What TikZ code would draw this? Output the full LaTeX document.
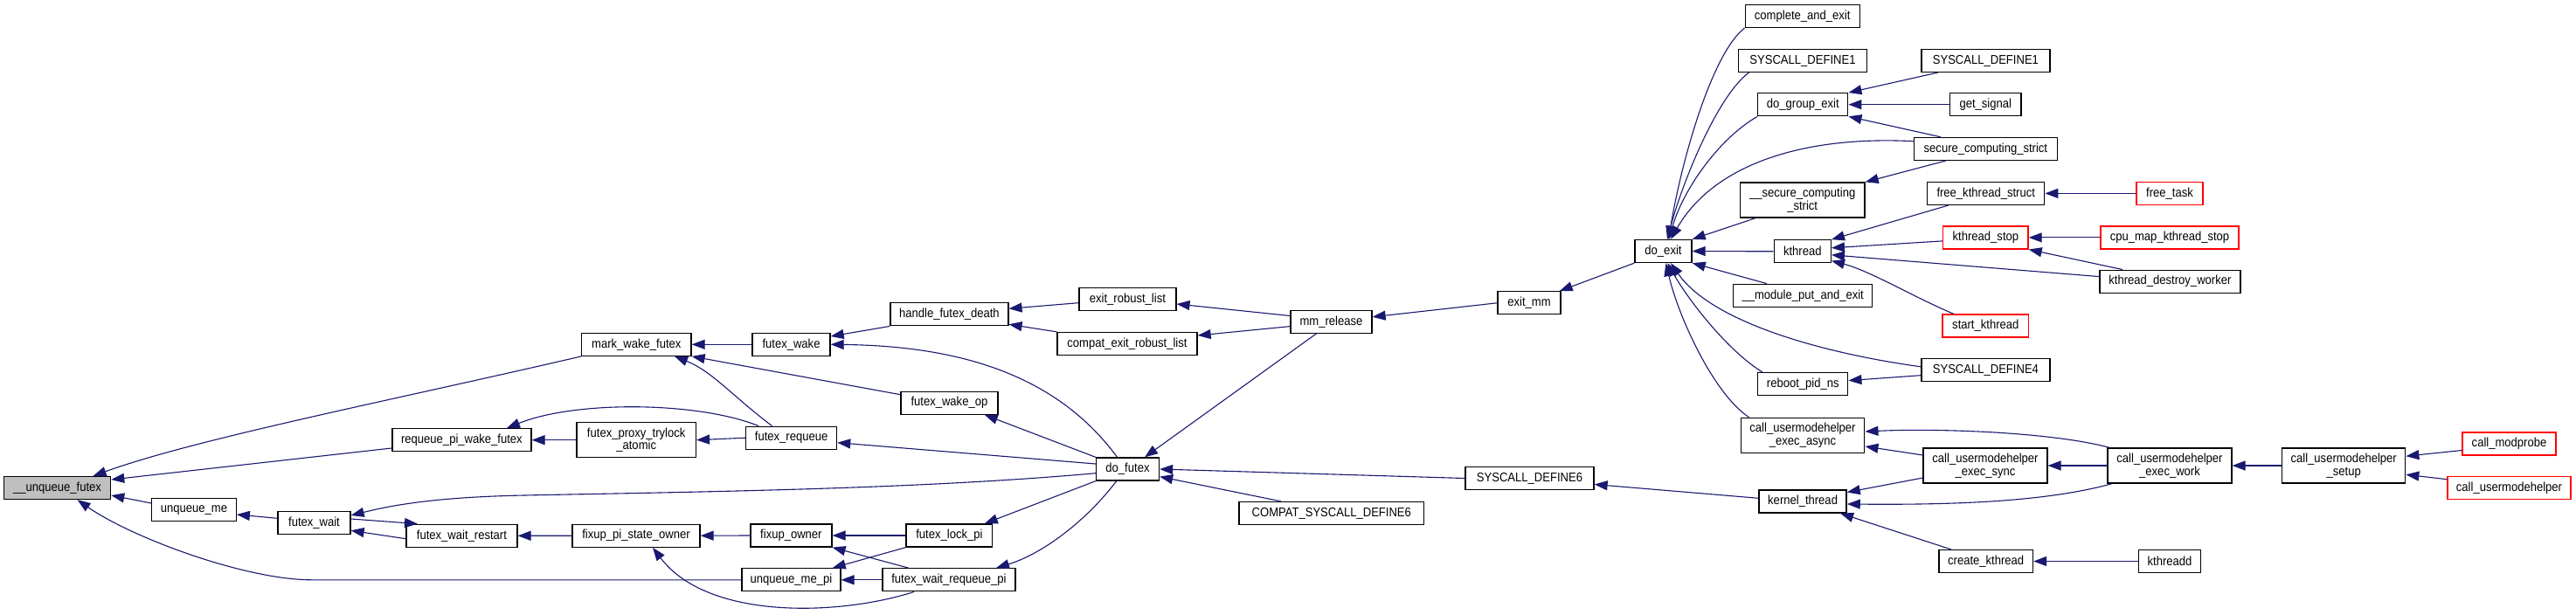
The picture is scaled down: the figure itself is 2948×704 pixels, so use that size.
\documentclass[tikz,border=0pt]{standalone}
\usepackage{fontspec}
\setmainfont{Liberation Sans}[FakeStretch=0.9]
\usetikzlibrary{arrows.meta}
\definecolor{edgec}{HTML}{191970}
\definecolor{rootfill}{HTML}{BFBFBF}
\begin{document}
\begin{tikzpicture}[x=1pt,y=-1pt,
 box/.style={draw=black,line width=1.3pt,inner sep=0pt,minimum height=26pt,align=center,font=\fontsize{14.5}{14.7}\selectfont},
 redbox/.style={box,draw=red},
 two/.style={minimum height=40pt},
 edg/.style={draw=edgec,line width=1.1pt,-{Triangle[length=15pt,width=11pt]}}]
\useasboundingbox[fill=white] (0,0) rectangle (2948,704);
% nodes
\node[box,fill=rootfill,minimum width=122pt] (unq) at (65.6,558.5) {\_\_unqueue\_futex};
\node[box,minimum width=96.5pt] (uqm) at (222,583.7) {unqueue\_me};
\node[box,minimum width=83pt] (fw) at (359.5,598.3) {futex\_wait};
\node[box,minimum width=127pt] (fwr) at (528.4,613.3) {futex\_wait\_restart};
\node[box,minimum width=159pt] (rpwf) at (528.4,503.7) {requeue\_pi\_wake\_futex};
\node[box,minimum width=125.4pt] (mwf) at (728.3,394.3) {mark\_wake\_futex};
\node[box,two,minimum width=136.4pt] (fpta) at (728.2,503.7) {futex\_proxy\_trylock\\\_atomic};
\node[box,minimum width=146pt] (fpso) at (728,613.2) {fixup\_pi\_state\_owner};
\node[box,minimum width=89pt] (fwk) at (905.5,394.3) {futex\_wake};
\node[box,minimum width=104pt] (frq) at (905.6,501.2) {futex\_requeue};
\node[box,minimum width=93pt] (fow) at (905.4,613) {fixup\_owner};
\node[box,minimum width=113pt] (uqmpi) at (905.4,663.8) {unqueue\_me\_pi};
\node[box,minimum width=135pt] (hfd) at (1086.4,359.8) {handle\_futex\_death};
\node[box,minimum width=111pt] (fwo) at (1086.4,461.2) {futex\_wake\_op};
\node[box,minimum width=98.7pt] (flpi) at (1086.4,613) {futex\_lock\_pi};
\node[box,minimum width=152pt] (fwrp) at (1086,663.8) {futex\_wait\_requeue\_pi};
\node[box,minimum width=111pt] (erl) at (1290.4,342.3) {exit\_robust\_list};
\node[box,minimum width=160pt] (cerl) at (1290,393.5) {compat\_exit\_robust\_list};
\node[box,minimum width=72pt] (df) at (1290.5,537) {do\_futex};
\node[box,minimum width=93pt] (mmr) at (1523.5,368.2) {mm\_release};
\node[box,minimum width=147pt] (sd6) at (1750.5,547.5) {SYSCALL\_DEFINE6};
\node[box,minimum width=211.6pt] (csd6) at (1523.8,587.5) {COMPAT\_SYSCALL\_DEFINE6};
\node[box,minimum width=72pt] (emm) at (1750,346.8) {exit\_mm};
\node[box,minimum width=65pt] (dex) at (1903.5,287.5) {do\_exit};
\node[box,minimum width=131pt] (cae) at (2062.7,18.4) {complete\_and\_exit};
\node[box,minimum width=147.6pt] (sd1a) at (2063,69.4) {SYSCALL\_DEFINE1};
\node[box,minimum width=103pt] (dge) at (2063.3,119.7) {do\_group\_exit};
\node[box,two,minimum width=142.7pt] (uscs) at (2062.7,229) {\_\_secure\_computing\\\_strict};
\node[box,minimum width=65pt] (kth) at (2062.8,287.8) {kthread};
\node[box,minimum width=159pt] (mpe) at (2063.2,338.3) {\_\_module\_put\_and\_exit};
\node[box,minimum width=103pt] (rpn) at (2063.3,439.6) {reboot\_pid\_ns};
\node[box,two,minimum width=141.6pt] (cuea) at (2063,498.3) {call\_usermodehelper\\\_exec\_async};
\node[box,minimum width=100pt] (kt) at (2063.1,574) {kernel\_thread};
\node[box,minimum width=147pt] (sd1b) at (2272.4,69.4) {SYSCALL\_DEFINE1};
\node[box,minimum width=81.4pt] (gs) at (2272.3,119.7) {get\_signal};
\node[box,minimum width=164pt] (scs) at (2272.4,170.4) {secure\_computing\_strict};
\node[box,minimum width=134pt] (fks) at (2272.7,221.4) {free\_kthread\_struct};
\node[redbox,minimum width=97.3pt] (ks) at (2272.4,271.9) {kthread\_stop};
\node[redbox,minimum width=98.6pt] (sk) at (2272.3,373) {start\_kthread};
\node[box,minimum width=147pt] (sd4) at (2272.4,423.5) {SYSCALL\_DEFINE4};
\node[box,two,minimum width=141.8pt] (cues) at (2272,533) {call\_usermodehelper\\\_exec\_sync};
\node[box,minimum width=107.6pt] (ck) at (2272.7,642.5) {create\_kthread};
\node[redbox,minimum width=76pt] (ft) at (2483,221.4) {free\_task};
\node[redbox,minimum width=158pt] (cmks) at (2483,271.9) {cpu\_map\_kthread\_stop};
\node[box,minimum width=161pt] (kdw) at (2483.4,322.2) {kthread\_destroy\_worker};
\node[box,two,minimum width=141.8pt] (cuew) at (2483,533) {call\_usermodehelper\\\_exec\_work};
\node[box,minimum width=71.3pt] (kd) at (2483,642.5) {kthreadd};
\node[box,two,minimum width=141pt] (cus) at (2682.2,533) {call\_usermodehelper\\\_setup};
\node[redbox,minimum width=107pt] (cmp) at (2871.5,508) {call\_modprobe};
\node[redbox,minimum width=141pt] (cu) at (2871.5,558.6) {call\_usermodehelper};
% edges
\draw[edg] (mwf.south west) .. controls (450,458) and (225,502) .. ([shift={(41,0)}]unq.north);
\draw[edg] ([shift={(0,9.3)}]rpwf.west) -- ([shift={(0,-9.5)}]unq.east);
\draw[edg] ([shift={(0,-7.7)}]uqm.west) -- ([shift={(0,8.5)}]unq.east);
\draw[edg] (uqmpi.west) -- (357,663.8) .. controls (280,663.8) and (150,615) .. ([shift={(23,0)}]unq.south);
\draw[edg] ([shift={(0,-5)}]fw.west) -- ([shift={(0,5.3)}]uqm.east);
\draw[edg] ([shift={(0,4.7)}]df.west) .. controls (1050,560) and (800,563) .. (600,567) .. controls (500,569) and (450,578) .. ([shift={(0,-8.3)}]fw.east);
\draw[edg] ([shift={(0,3.4)}]fwr.west) -- ([shift={(0,9)}]fw.east);
\draw[edg] ([shift={(0,-4.3)}]fw.east) -- ([shift={(-50.4,0)}]fwr.north);
\draw[edg] (fpso.west) -- (fwr.east);
\draw[edg] (fpta.west) -- (rpwf.east);
\draw[edg] ([shift={(-37.6,0)}]frq.north) .. controls (800,460) and (660,458) .. ([shift={(51.6,0)}]rpwf.north);
\draw[edg] (fwk.west) -- (mwf.east);
\draw[edg] ([shift={(-22,0)}]frq.north) .. controls (840,455) and (815,425) .. ([shift={(43.7,0)}]mwf.south);
\draw[edg] ([shift={(0,-9.5)}]fwo.west) -- (mwf.south east);
\draw[edg] (frq.west) -- (fpta.east);
\draw[edg] (fow.west) -- (fpso.east);
\draw[edg] ([shift={(-40,0)}]fwrp.south) .. controls (960,705) and (810,710) .. ([shift={(19,0)}]fpso.south);
\draw[edg] (hfd.south west) -- ([shift={(0,-9.3)}]fwk.east);
\draw[edg] ([shift={(-12,0)}]df.north) .. controls (1210,430) and (1100,396) .. (fwk.east);
\draw[edg] ([shift={(0,-6)}]df.west) -- ([shift={(0,5.5)}]frq.east);
\draw[edg] (flpi.west) -- (fow.east);
\draw[edg] ([shift={(-46.3,0)}]fwrp.north) -- (fow.south east);
\draw[edg] (flpi.south west) -- ([shift={(47.3,0)}]uqmpi.north);
\draw[edg] (fwrp.west) -- (uqmpi.east);
\draw[edg] ([shift={(0,4.4)}]erl.west) -- ([shift={(0,-6.5)}]hfd.east);
\draw[edg] (cerl.north west) -- ([shift={(0,11.5)}]hfd.east);
\draw[edg] (df.north west) -- ([shift={(40.4,0)}]fwo.south);
\draw[edg] (df.south west) -- ([shift={(40.4,0)}]flpi.north);
\draw[edg] ([shift={(-12.8,0)}]df.south) .. controls (1240,600) and (1190,635) .. ([shift={(54,0)}]fwrp.north);
\draw[edg] ([shift={(0,-6.7)}]mmr.west) -- ([shift={(0,5.7)}]erl.east);
\draw[edg] ([shift={(0,5.4)}]mmr.west) -- ([shift={(0,-9.5)}]cerl.east);
\draw[edg] ([shift={(-17,0)}]mmr.south) -- ([shift={(19.5,0)}]df.north);
\draw[edg] (sd6.west) -- (df.east);
\draw[edg] ([shift={(-58,0)}]csd6.north) -- ([shift={(0,8.6)}]df.east);
\draw[edg] (emm.west) -- ([shift={(0,-5.4)}]mmr.east);
\draw[edg] (dex.south west) -- ([shift={(34.7,0)}]emm.north);
\draw[edg] ([shift={(0,-3.7)}]kt.west) -- ([shift={(0,7)}]sd6.east);
\draw[edg] (cae.south west) .. controls (1960,60) and (1925,180) .. ([shift={(6,0)}]dex.north);
\draw[edg] ([shift={(-61.5,0)}]sd1a.south) .. controls (1965,110) and (1925,210) .. ([shift={(4.5,0)}]dex.north);
\draw[edg] (dge.south west) .. controls (1965,160) and (1925,220) .. ([shift={(6.5,0)}]dex.north);
\draw[edg] ([shift={(0,-8.7)}]scs.west) .. controls (2060,155) and (1960,190) .. ([shift={(8.5,0)}]dex.north);
\draw[edg] ([shift={(-53.7,0)}]uscs.south) -- (dex.north east);
\draw[edg] (kth.west) -- (dex.east);
\draw[edg] ([shift={(-41.2,0)}]mpe.north) -- (dex.south east);
\draw[edg] ([shift={(0,-3.7)}]sd4.west) .. controls (2090,405) and (1960,370) .. ([shift={(8.5,0)}]dex.south);
\draw[edg] ([shift={(-46.5,0)}]rpn.north) .. controls (1975,400) and (1930,340) .. ([shift={(5,0)}]dex.south);
\draw[edg] ([shift={(-61.5,0)}]cuea.north) .. controls (1960,450) and (1920,360) .. ([shift={(3,0)}]dex.south);
\draw[edg] ([shift={(-54.7,0)}]sd1b.south) -- (dge.north east);
\draw[edg] (gs.west) -- (dge.east);
\draw[edg] ([shift={(-51.7,0)}]scs.north) -- (dge.south east);
\draw[edg] ([shift={(-45.7,0)}]scs.south) -- (uscs.north east);
\draw[edg] ([shift={(-43,0)}]fks.south) -- (kth.north east);
\draw[edg] ([shift={(0,4)}]ks.west) -- ([shift={(0,-4)}]kth.east);
\draw[edg] ([shift={(0,-5.6)}]kdw.west) -- ([shift={(0,4)}]kth.east);
\draw[edg] ([shift={(-36.5,0)}]sk.north) .. controls (2190,340) and (2140,310) .. ([shift={(0,10.8)}]kth.east);
\draw[edg] (ft.west) -- (fks.east);
\draw[edg] (cmks.west) -- (ks.east);
\draw[edg] ([shift={(-54.4,0)}]kdw.north) -- (ks.south east);
\draw[edg] ([shift={(0,6.2)}]sd4.west) -- ([shift={(0,-4)}]rpn.east);
\draw[edg] ([shift={(-69,0)}]cuew.north) .. controls (2350,495) and (2220,490) .. ([shift={(0,-4.3)}]cuea.east);
\draw[edg] ([shift={(0,-12)}]cues.west) -- ([shift={(0,12.7)}]cuea.east);
\draw[edg] ([shift={(0,14)}]cues.west) -- ([shift={(0,-10.5)}]kt.east);
\draw[edg] ([shift={(-66,0)}]cuew.south) .. controls (2340,575) and (2230,578) .. ([shift={(0,3)}]kt.east);
\draw[edg] ([shift={(-40,0)}]ck.north) -- ([shift={(43,0)}]kt.south);
\draw[edg] (cuew.west) -- (cues.east);
\draw[edg] (cus.west) -- (cuew.east);
\draw[edg] ([shift={(0,7.5)}]cmp.west) -- ([shift={(0,-10.8)}]cus.east);
\draw[edg] ([shift={(0,-9.9)}]cu.west) -- ([shift={(0,10.3)}]cus.east);
\draw[edg] (kd.west) -- (ck.east);
\end{tikzpicture}
\end{document}
